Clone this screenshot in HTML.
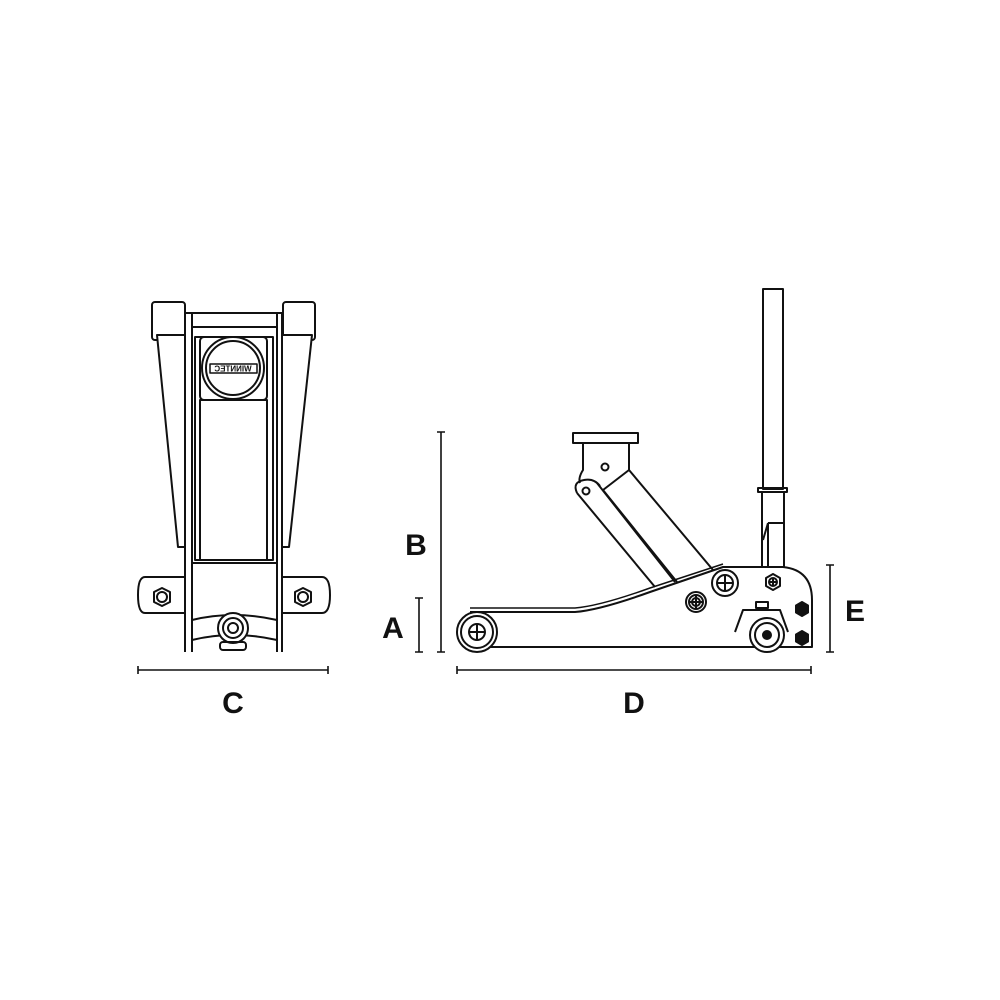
<!DOCTYPE html>
<html><head><style>html,body{margin:0;padding:0;background:#fff}svg{display:block}
text{font-family:"Liberation Sans",sans-serif;font-weight:bold}</style></head><body>
<svg width="1000" height="1000" viewBox="0 0 1000 1000" fill="none" stroke="#111" stroke-width="2" stroke-linejoin="round">
<!-- FRONT VIEW -->
<rect x="152" y="302" width="33" height="38" rx="3"/>
<rect x="283" y="302" width="32" height="38" rx="3"/>
<polygon points="157,335 185,335 185,547 178,547" fill="#fff"/>
<polygon points="282,335 312,335 289,547 282,547" fill="#fff"/>
<line x1="185" y1="313" x2="185" y2="652"/><line x1="192" y1="313" x2="192" y2="652"/>
<line x1="277" y1="313" x2="277" y2="652"/><line x1="282" y1="313" x2="282" y2="652"/>
<line x1="185" y1="313" x2="282" y2="313"/><line x1="192" y1="327" x2="277" y2="327"/>
<rect x="195" y="337" width="78" height="223"/>
<rect x="200" y="337" width="67" height="63" rx="4"/>
<rect x="200" y="400" width="67" height="160"/>
<line x1="192" y1="563" x2="277" y2="563"/>
<circle cx="233" cy="368" r="31"/><circle cx="233" cy="368" r="27"/>
<rect x="210" y="364" width="47" height="9" stroke-width="1.5"/>
<text x="233" y="371.5" font-size="8" text-anchor="middle" fill="#111" stroke="none" transform="matrix(-1,0,0,1,466,0)">WINNTEC</text>
<path d="M185,577 H145 Q138,577 138,595 Q138,613 145,613 H185"/>
<path d="M282,577 H322 Q330,577 330,595 Q330,613 322,613 H282"/>
<polygon points="162,588 170,592 170,602 162,606 154,602 154,592"/><circle cx="162" cy="597" r="5"/>
<polygon points="303,588 311,592 311,602 303,606 295,602 295,592"/><circle cx="303" cy="597" r="5"/>
<path d="M192,620 Q233,610 277,620 M192,640 Q233,630 277,640"/>
<circle cx="233" cy="628" r="15" fill="#fff"/><circle cx="233" cy="628" r="10"/><circle cx="233" cy="628" r="5"/>
<rect x="220" y="642" width="26" height="8" rx="3"/>
<!-- SIDE VIEW -->
<rect x="763" y="289" width="20" height="200"/>
<rect x="758" y="488" width="29" height="4"/>
<rect x="762" y="492" width="22" height="75"/>
<line x1="768" y1="523" x2="784" y2="523"/><path d="M768,523 L763,540 M768,523 L768,567"/>
<rect x="573" y="433" width="65" height="10"/>
<path d="M583,443 L583,470 Q578,478 580,483 M629,443 L629,470 L603,490"/>
<circle cx="605" cy="467" r="3.5"/>
<path d="M577,493 L655,587 M597,483 L675,582 M603,490 L677,582 M629,470 L713,570"/>
<path d="M577,493 Q572,482 584,480 Q594,478 600,486"/>
<circle cx="586" cy="491" r="3.5"/>
<path d="M470,612 L575,612 Q600,610 650,592 L723,567 L783,567 Q812,570 812,600 L812,647 L470,647"/>
<path d="M470,608 L575,608 Q600,606 650,588 L723,564" stroke-width="1.5"/>
<circle cx="477" cy="632" r="20" fill="#fff"/><circle cx="477" cy="632" r="16"/>
<circle cx="477" cy="632" r="8"/><path d="M469,632 H485 M477,624 V640"/>
<circle cx="725" cy="583" r="13" fill="#fff"/><circle cx="725" cy="583" r="8"/><path d="M717,583 H733 M725,575 V591"/>
<circle cx="696" cy="602" r="10"/><circle cx="696" cy="602" r="7"/><circle cx="696" cy="602" r="4"/><path d="M690,602 H702 M696,596 V608"/>
<polygon points="773,574 780,578 780,586 773,590 766,586 766,578"/><circle cx="773" cy="582" r="4"/><path d="M769,582H777M773,578V586"/>
<polygon points="802,602 808,605.5 808,612.5 802,616 796,612.5 796,605.5" fill="#111"/>
<polygon points="802,631 808,634.5 808,641.5 802,645 796,641.5 796,634.5" fill="#111"/>
<path d="M735,632 L743,610 L780,610 L788,632"/>
<rect x="756" y="602" width="12" height="6"/>
<circle cx="767" cy="635" r="17" fill="#fff"/><circle cx="767" cy="635" r="12"/><circle cx="767" cy="635" r="4" fill="#111"/>
<!-- DIMENSIONS -->
<g stroke-width="1.6">
<path d="M441,432V652 M437,432H445 M437,652H445"/>
<path d="M419,598V652 M415,598H423 M415,652H423"/>
<path d="M830,565V652 M826,565H834 M826,652H834"/>
<path d="M138,670H328 M138,666V674 M328,666V674"/>
<path d="M457,670H811 M457,666V674 M811,666V674"/>
</g>
<g fill="#111" stroke="none" font-size="30" text-anchor="middle">
<text x="233" y="713">C</text><text x="634" y="713">D</text>
<text x="416" y="555">B</text><text x="393" y="638">A</text><text x="855" y="621">E</text>
</g>
</svg>
</body></html>
